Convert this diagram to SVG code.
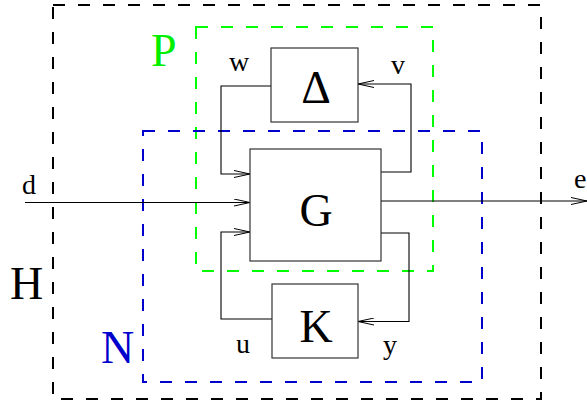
<svg xmlns="http://www.w3.org/2000/svg" width="587" height="404" viewBox="0 0 587 404">
  <defs>
    <marker id="arrow" viewBox="0 0 16 8" refX="16" refY="4" markerWidth="16" markerHeight="8" markerUnits="userSpaceOnUse" orient="auto">
      <path d="M0,0.5 L16,4 L0,7.5" fill="none" stroke="#000" stroke-width="1"/>
    </marker>
    <style>
      .frame { fill: none; stroke-width: 2; stroke-dasharray: 12 13; }
      .box { fill: #fff; stroke: #333; stroke-width: 1.2; }
      .wire { fill: none; stroke: #000; stroke-width: 1.1; }
      .big { font-family: "Liberation Serif", "Times New Roman", serif; font-size: 46px; }
      .sig { font-family: "Liberation Serif", "Times New Roman", serif; font-size: 28px; fill: #000; }
    </style>
  </defs>

  <rect width="587" height="404" fill="#fff"/>

  <!-- interconnection frames -->
  <g id="frame-H">
    <rect class="frame" x="53" y="5" width="488" height="394" stroke="#000"/>
    <text class="big" x="10" y="299" fill="#000">H</text>
  </g>
  <g id="frame-P">
    <rect class="frame" x="196" y="27" width="237" height="244" stroke="#00ff00"/>
    <text class="big" x="151" y="66" fill="#00ee00">P</text>
  </g>
  <g id="frame-N">
    <rect class="frame" x="143" y="131" width="339" height="251" stroke="#0000cc"/>
    <text class="big" x="101" y="363" fill="#0000cc">N</text>
  </g>

  <!-- signal connectors -->
  <g id="connectors">
    <path class="wire" d="M271,86 H221 V174 H250" marker-end="url(#arrow)"/>
    <path class="wire" d="M381,172 H411 V84 H358" marker-end="url(#arrow)"/>
    <path class="wire" d="M25,202.5 H250" marker-end="url(#arrow)"/>
    <path class="wire" d="M381,201 H587" marker-end="url(#arrow)"/>
    <path class="wire" d="M272,319 H221 V232 H250" marker-end="url(#arrow)"/>
    <path class="wire" d="M381,233 H409 V321.5 H358" marker-end="url(#arrow)"/>
  </g>

  <!-- blocks -->
  <g id="node-Delta">
    <rect class="box" x="271" y="48" width="87" height="74"/>
    <text class="big" x="316" y="103" text-anchor="middle" fill="#000">Δ</text>
  </g>
  <g id="node-G">
    <rect class="box" x="250" y="149" width="131" height="112"/>
    <text class="big" x="316" y="226" text-anchor="middle" font-size="48" fill="#000">G</text>
  </g>
  <g id="node-K">
    <rect class="box" x="272" y="284" width="86" height="74"/>
    <text class="big" x="316" y="342" text-anchor="middle" font-size="48" fill="#000">K</text>
  </g>

  <!-- signal labels -->
  <g id="labels">
    <text class="sig" x="22" y="194">d</text>
    <text class="sig" x="574" y="188">e</text>
    <text class="sig" x="229" y="71">w</text>
    <text class="sig" x="391" y="74">v</text>
    <text class="sig" x="236" y="353">u</text>
    <text class="sig" x="383" y="354">y</text>
  </g>
</svg>
